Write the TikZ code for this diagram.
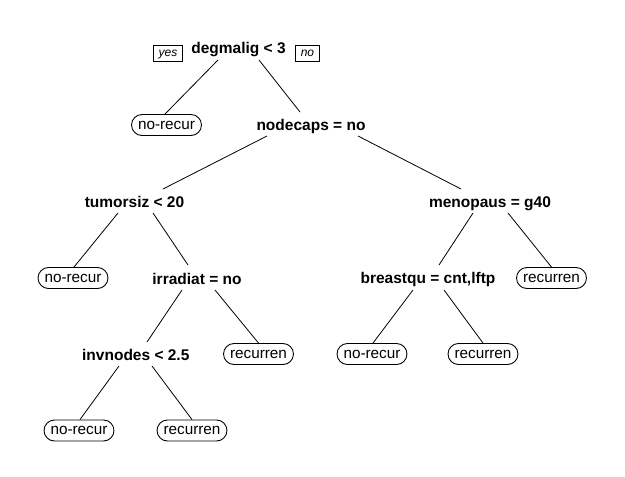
\documentclass[tikz,border=0pt]{standalone}
\usepackage{fontspec}
\setmainfont{Liberation Sans}
\begin{document}
\begin{tikzpicture}[x=1pt,y=-1pt,
  splitlab/.style={anchor=base,inner sep=0pt,font=\fontsize{15.5}{18}\selectfont\bfseries},
  leafbox/.style={draw,line width=0.9pt,rounded corners=10.5pt,minimum height=21pt,inner xsep=6.5pt,inner ysep=0pt,text height=8pt,text depth=0pt,font=\fontsize{15.3}{18}\selectfont},
  yesno/.style={draw,line width=0.7pt,minimum height=16pt,inner xsep=5pt,inner ysep=0pt,text height=6pt,text depth=0pt,font=\fontsize{12}{14}\selectfont\itshape},
  branch/.style={line width=0.8pt}]
\useasboundingbox (0,0) rectangle (625,477);
\fill[white] (0,0) rectangle (625,477);
% split labels
\node[splitlab] (deg) at (238.5,53) {degmalig < 3};
\node[splitlab] (nod) at (311,130) {nodecaps = no};
\node[splitlab] (tum) at (134.5,207) {tumorsiz < 20};
\node[splitlab] (men) at (490,207) {menopaus = g40};
\node[splitlab] (irr) at (197,284) {irradiat = no};
\node[splitlab] (bre) at (428,283.5) {breastqu = cnt,lftp};
\node[splitlab] (inv) at (135.8,360) {invnodes < 2.5};
% yes / no
\node[yesno] (yes) at (168,53) {yes};
\node[yesno] (no) at (307.5,53) {no};
% leaves
\node[leafbox] (l1) at (166.5,125) {no-recur};
\node[leafbox] (l2) at (73,278) {no-recur};
\node[leafbox] (l3) at (258.5,354) {recurren};
\node[leafbox] (l4) at (79,430.5) {no-recur};
\node[leafbox] (l5) at (192,430.5) {recurren};
\node[leafbox] (l6) at (372,354) {no-recur};
\node[leafbox] (l7) at (483,354) {recurren};
\node[leafbox] (l8) at (551.5,278) {recurren};
% branch ends
\coordinate (degL) at (218,60);
\coordinate (degR) at (259,60);
\coordinate (nodT) at (300,112);
\coordinate (nodL) at (267,136);
\coordinate (nodR) at (358,136);
\coordinate (tumT) at (163,189);
\coordinate (menT) at (461,189);
\coordinate (tumL) at (118,213);
\coordinate (tumR) at (153,213);
\coordinate (irrT) at (188,265);
\coordinate (irrL) at (182,290);
\coordinate (irrR) at (215,290);
\coordinate (invT) at (147,342);
\coordinate (menL) at (473,213);
\coordinate (menR) at (508,213);
\coordinate (breT) at (439,265);
\coordinate (breL) at (413,290);
\coordinate (breR) at (444,290);
\coordinate (invL) at (119,366);
\coordinate (invR) at (152,366);
% branches
\draw[branch] (degL) -- (l1.north -| 165,0);
\draw[branch] (degR) -- (nodT);
\draw[branch] (nodL) -- (tumT);
\draw[branch] (nodR) -- (menT);
\draw[branch] (tumL) -- (l2.north -| 74,0);
\draw[branch] (tumR) -- (irrT);
\draw[branch] (irrL) -- (invT);
\draw[branch] (irrR) -- (l3.north);
\draw[branch] (menL) -- (breT);
\draw[branch] (menR) -- (l8.north);
\draw[branch] (breL) -- (l6.north -| 373,0);
\draw[branch] (breR) -- (l7.north);
\draw[branch] (invL) -- (l4.north -| 80,0);
\draw[branch] (invR) -- (l5.north);
\end{tikzpicture}
\end{document}
